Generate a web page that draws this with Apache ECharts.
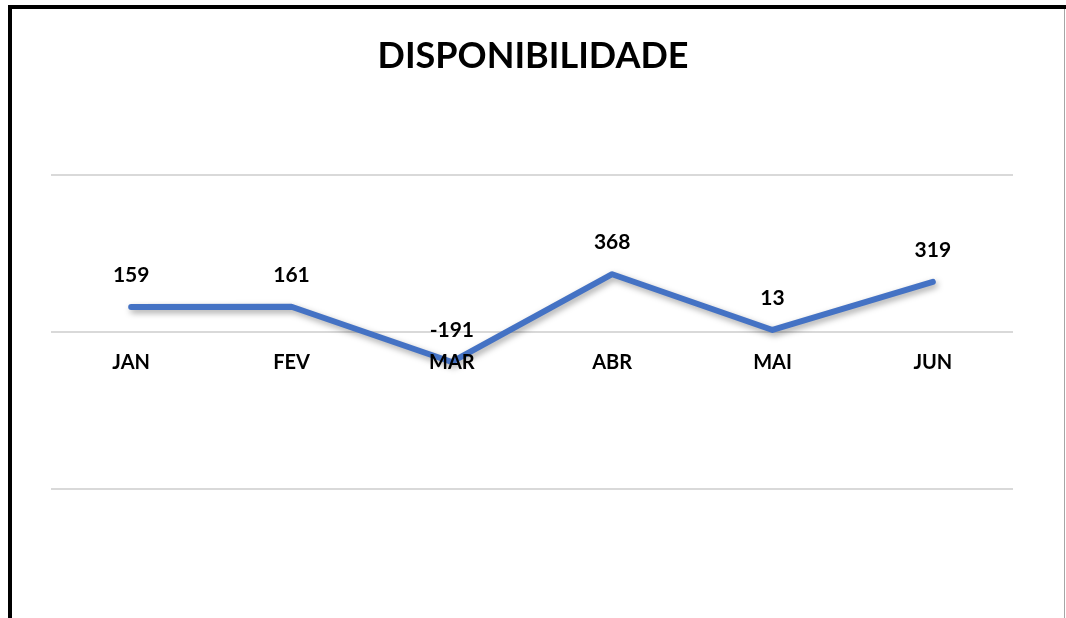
<!DOCTYPE html>
<html>
<head>
<meta charset="utf-8">
<script src="https://cdn.jsdelivr.net/npm/echarts@6/dist/echarts.min.js"></script>
<style>
html,body{margin:0;padding:0;background:#fff;}
#chart{width:1066px;height:618px;}
</style>
</head>
<body>
<div id="chart"></div>
<script>
const titleText = 'DISPONIBILIDADE';
const categories = ['JAN', 'FEV', 'MAR', 'ABR', 'MAI', 'JUN'];
const values = [159, 161, -191, 368, 13, 319];

const chart = echarts.init(document.getElementById('chart'));
const font = 'Lato, "Open Sans", sans-serif';
chart.setOption({
  backgroundColor: '#ffffff',
  animation: false,
  title: {
    text: titleText,
    left: 'center',
    top: 33,
    textStyle: { fontFamily: font, fontWeight: 'bold', fontSize: 36, color: '#000' }
  },
  grid: { left: 51, right: 53, top: 175, bottom: 129 },
  xAxis: {
    type: 'category',
    data: categories,
    boundaryGap: true,
    offset: -157,
    zlevel: 1,
    axisLine: { show: false },
    axisTick: { show: false },
    axisLabel: { margin: 21, fontFamily: font, fontWeight: 'bold', fontSize: 20, color: '#000' }
  },
  yAxis: {
    type: 'value',
    min: -1000, max: 1000, interval: 1000,
    axisLine: { show: false },
    axisTick: { show: false },
    axisLabel: { show: false },
    splitLine: { lineStyle: { color: '#d9d9d9', width: 2 } }
  },
  series: [{
    type: 'line',
    data: values,
    symbol: 'circle',
    symbolSize: 2,
    showSymbol: true,
    itemStyle: { color: 'rgba(68,114,196,0)', borderWidth: 0 },
    lineStyle: {
      color: '#4472c4', width: 6, cap: 'round', join: 'round',
      shadowColor: 'rgba(0,0,0,0.35)', shadowBlur: 6, shadowOffsetX: 2, shadowOffsetY: 3
    },
    label: {
      show: true, position: 'top', distance: 20,
      fontFamily: font, fontWeight: 'bold', fontSize: 21, color: '#000'
    },
    z: 2
  }],
  graphic: [
    { type: 'rect', shape: { x: 8, y: 5, width: 1058, height: 4 }, style: { fill: '#000' }, silent: true },
    { type: 'rect', shape: { x: 8, y: 5, width: 4, height: 613 }, style: { fill: '#000' }, silent: true },
    { type: 'rect', shape: { x: 1064, y: 9, width: 1, height: 609 }, style: { fill: '#a6a6a6' }, silent: true }
  ]
});
</script>
</body>
</html>
